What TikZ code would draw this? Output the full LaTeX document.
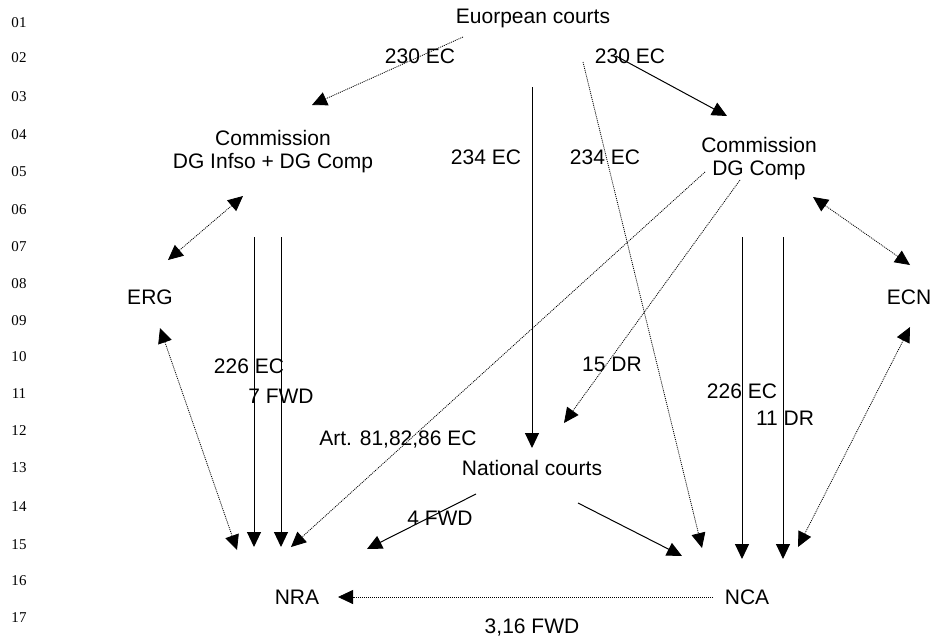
\documentclass[tikz,border=0pt]{standalone}
\usepackage{fontspec}
\setmainfont{Liberation Sans}
\newfontfamily\numfont{Liberation Serif}
\usetikzlibrary{arrows.meta}
\begin{document}
\begin{tikzpicture}[x=1pt,y=-1pt,
  lbl/.style={inner sep=0pt,anchor=base,font=\fontsize{21}{23}\selectfont},
  twoline/.style={inner sep=0pt,align=center,anchor=north,font=\fontsize{21}{23}\selectfont},
  num/.style={inner sep=0pt,font=\numfont\fontsize{15}{17}\selectfont},
  tip/.style={-{Triangle[length=15pt,width=14pt]}},
  dtip/.style={{Triangle[length=15pt,width=14pt]}-{Triangle[length=15pt,width=14pt]}},
  solidln/.style={line width=1pt,black},
  dotln/.style={line width=0.8pt,black,dash pattern=on 1pt off 1pt}]
\useasboundingbox (0,0) rectangle (931,641);
\fill[white] (0,0) rectangle (931,641);
% line numbers
\foreach \n/\y in {01/23,02/58,03/97,04/135,05/172,06/210,07/247,08/284,09/321,10/357,11/394,12/431,13/468,14/507,15/545,16/581,17/618}
  \node[num] (ln\n) at (19,\y) {\n};
% texts (placed by baseline)
\node[lbl] (eu) at (533,23) {Euorpean courts};
\node[lbl] (l230) at (420,63) {230 EC};
\node[lbl] (r230) at (630,63) {230 EC};
\node[twoline] (coml) at (273,130) {Commission\\DG Infso + DG Comp};
\node[lbl] (t234a) at (486,164) {234 EC};
\node[lbl] (t234b) at (605,164) {234 EC};
\node[twoline] (comr) at (759,137) {Commission\\DG Comp};
\node[lbl] (erg) at (150,304) {ERG};
\node[lbl] (ecn) at (909,304) {ECN};
\node[lbl] (l226) at (249,373) {226 EC};
\node[lbl] (l7) at (281,403) {7 FWD};
\node[lbl] (l15) at (612,371) {15 DR};
\node[lbl] (art) at (398,445) {Art. 81,82,86 EC};
\node[lbl] (nat) at (532,475) {National courts};
\node[lbl] (l4) at (440,525) {4 FWD};
\node[lbl] (r226) at (742,398) {226 EC};
\node[lbl] (r11) at (785,425) {11 DR};
\node[lbl] (nra) at (297,604) {NRA};
\node[lbl] (nca) at (747,604) {NCA};
\node[lbl] (l316) at (532,633) {3,16 FWD};
% connector end points
\coordinate (a1s) at (463,37);  \coordinate (a1e) at (312,105);
\coordinate (a2s) at (616,56);  \coordinate (a2e) at (727,116);
\coordinate (a3s) at (532,87);  \coordinate (a3e) at (532,448);
\coordinate (a4s) at (583,62);  \coordinate (a4e) at (702,548);
\coordinate (a5s) at (168,260); \coordinate (a5e) at (243,196);
\coordinate (a6s) at (813,197); \coordinate (a6e) at (910,265);
\coordinate (a7s) at (254,237); \coordinate (a7e) at (254,547);
\coordinate (a8s) at (281,237); \coordinate (a8e) at (281,547);
\coordinate (a9s) at (160,328); \coordinate (a9e) at (237,550);
\coordinate (a10s) at (705,172); \coordinate (a10e) at (291,547);
\coordinate (a11s) at (740,180); \coordinate (a11e) at (564,423);
\coordinate (a12s) at (476,494); \coordinate (a12e) at (367,549);
\coordinate (a13s) at (578,503); \coordinate (a13e) at (682,556);
\coordinate (a14s) at (742,237); \coordinate (a14e) at (742,559);
\coordinate (a15s) at (783,237); \coordinate (a15e) at (783,559);
\coordinate (a16s) at (910,327); \coordinate (a16e) at (798,547);
\coordinate (a17s) at (713,597); \coordinate (a17e) at (338,597);
% connectors
\draw[dotln,tip] (a1s) -- (a1e);
\draw[solidln,tip] (a2s) -- (a2e);
\draw[solidln,tip] (a3s) -- (a3e);
\draw[dotln,tip] (a4s) -- (a4e);
\draw[dotln,dtip] (a5s) -- (a5e);
\draw[dotln,dtip] (a6s) -- (a6e);
\draw[solidln,tip] (a7s) -- (a7e);
\draw[solidln,tip] (a8s) -- (a8e);
\draw[dotln,dtip] (a9s) -- (a9e);
\draw[dotln,tip] (a10s) -- (a10e);
\draw[dotln,tip] (a11s) -- (a11e);
\draw[solidln,tip] (a12s) -- (a12e);
\draw[solidln,tip] (a13s) -- (a13e);
\draw[solidln,tip] (a14s) -- (a14e);
\draw[solidln,tip] (a15s) -- (a15e);
\draw[dotln,dtip] (a16s) -- (a16e);
\draw[dotln,tip] (a17s) -- (a17e);
\end{tikzpicture}
\end{document}
